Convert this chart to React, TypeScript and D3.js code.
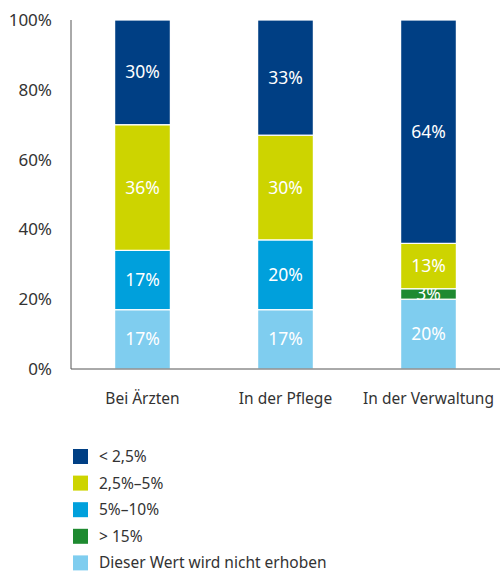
import React from "react";
import * as d3 from "d3";

const categories = ["Bei Ärzten", "In der Pflege", "In der Verwaltung"];
const seriesNames = ["Dieser Wert wird nicht erhoben", "> 15%", "5%–10%", "2,5%–5%", "< 2,5%"];
const notCollected = [17, 17, 20];
const over15 = [0, 0, 3];
const from5to10 = [17, 20, 0];
const from25to5 = [36, 30, 13];
const under25 = [30, 33, 64];
const yTicks = [0, 20, 40, 60, 80, 100];
const legendOrder = ["< 2,5%", "2,5%–5%", "5%–10%", "> 15%", "Dieser Wert wird nicht erhoben"];
const colors: Record<string, string> = {
  "< 2,5%": "#003f84",
  "2,5%–5%": "#cdd400",
  "5%–10%": "#00a0dc",
  "> 15%": "#1e8a30",
  "Dieser Wert wird nicht erhoben": "#7fcdef",
};

const W = 504, H = 572;
const font = "'Noto Sans', 'Open Sans', sans-serif";

export default function App() {
  const seriesVals = [notCollected, over15, from5to10, from25to5, under25];
  const rows = categories.map((c, i) => {
    const r: any = { cat: c };
    seriesNames.forEach((s, k) => (r[s] = seriesVals[k][i]));
    return r;
  });
  const stack = d3.stack<any>().keys(seriesNames)(rows);
  const x = d3.scaleBand().domain(categories).range([71, 500]).paddingInner(0.61).paddingOuter(0.305);
  const y = d3.scaleLinear().domain([0, 100]).range([369, 20]);

  return (
    <div style={{ position: "absolute", left: 0, top: 0 }}>
      <svg width={W} height={H} style={{ display: "block", fontFamily: font }}>
        {yTicks.map((t) => (
          <text key={t} x={52} y={y(t)} dy="0.35em" textAnchor="end" fontSize={17} fill="#333">
            {t}%
          </text>
        ))}
        {stack.map((s) =>
          s.map((d, i) => {
            const v = d[1] - d[0];
            if (v <= 0) return null;
            const x0 = x(categories[i])!;
            return (
              <g key={s.key + i}>
                <rect
                  x={x0}
                  y={y(d[1])}
                  width={x.bandwidth()}
                  height={y(d[0]) - y(d[1])}
                  fill={colors[s.key]}
                  stroke="#fff"
                  strokeWidth={1.2}
                />
                <text
                  x={x0 + x.bandwidth() / 2}
                  y={(y(d[0]) + y(d[1])) / 2}
                  dy="0.35em"
                  textAnchor="middle"
                  fontSize={17.5}
                  fill="#fff"
                >
                  {v}%
                </text>
              </g>
            );
          })
        )}
        <line x1={71} x2={71} y1={20} y2={369} stroke="#555" strokeWidth={1} />
        <line x1={71} x2={500} y1={369} y2={369} stroke="#555" strokeWidth={1} />
        {categories.map((c) => (
          <text key={c} x={x(c)! + x.bandwidth() / 2} y={404} textAnchor="middle" fontSize={15.5} fill="#333">
            {c}
          </text>
        ))}
        {legendOrder.map((k, i) => (
          <g key={k} transform={`translate(73, ${449 + i * 26.6})`}>
            <rect width={15} height={15} fill={colors[k]} />
            <text x={26} y={7.5} dy="0.35em" fontSize={15.5} fill="#333">
              {k}
            </text>
          </g>
        ))}
      </svg>
    </div>
  );
}
